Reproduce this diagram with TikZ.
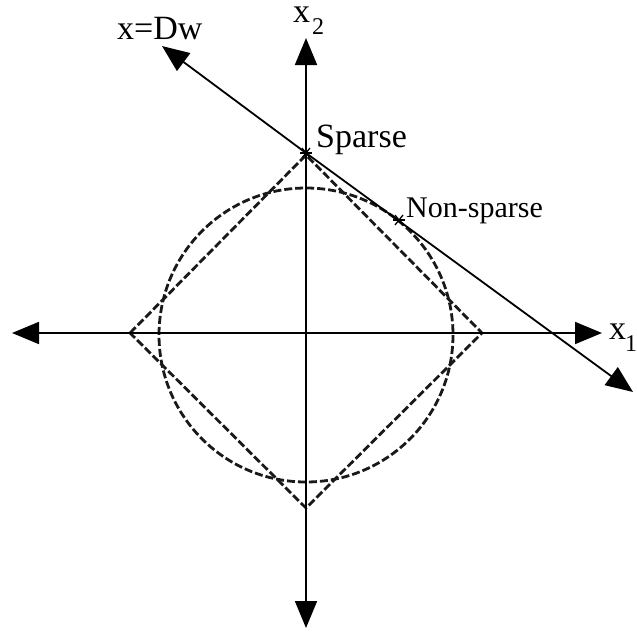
\documentclass[tikz,border=0pt]{standalone}
\usepackage{fontspec}
\setmainfont{Liberation Serif}
\usetikzlibrary{arrows.meta}
\begin{document}
\begin{tikzpicture}[x=1pt,y=-1pt,
  axis/.style={line width=1.8pt,-{Triangle[length=27pt,width=22pt]}},
  dashline/.style={line width=2.8pt,dash pattern=on 8pt off 3pt,draw=black!90},
  lbl/.style={font=\fontsize{34}{36}\selectfont,inner sep=0pt,anchor=base west},
  sublbl/.style={font=\fontsize{24}{26}\selectfont,inner sep=0pt,anchor=base west},
  starmark/.style={line width=1.3pt}]
\useasboundingbox (0,0) rectangle (637,632);
\coordinate (O) at (306,333);
\coordinate (L) at (12,333);
\coordinate (R) at (602,333);
\coordinate (T) at (306,38);
\coordinate (B) at (306,628);
\coordinate (S) at (306,153);
\coordinate (N) at (399,220);
\coordinate (DA) at (162,46);
\coordinate (DB) at (633,392);
% circle and diamond
\draw[dashline] (306,335) circle (147);
\draw[dashline] (130,333) -- (306,155) -- (482,333) -- (306,508) -- cycle;
% axes
\draw[axis] (O) -- (L);
\draw[axis] (O) -- (R);
\draw[axis] (O) -- (T);
\draw[axis] (O) -- (B);
% line x=Dw
\draw[axis] (S) -- (DA);
\draw[axis] (S) -- (DB);
% star marks
\foreach \p in {S,N}{
  \draw[starmark] (\p) ++(-6,0) -- ++(12,0);
  \draw[starmark] (\p) ++(-4,-5) -- ++(8,10);
  \draw[starmark] (\p) ++(4,-5) -- ++(-8,10);
}
% labels
\node[lbl] (lx1) at (609,339) {x};
\node[sublbl] (lx1s) at (625,351) {1};
\node[lbl] (lx2) at (293,22) {x};
\node[sublbl] (lx2s) at (312,34) {2};
\node[lbl] (ldw) at (117,39) {x=Dw};
\node[lbl] (lsp) at (316,147) {Sparse};
\node[lbl,font=\fontsize{30}{32}\selectfont] (lns) at (406,217) {Non-sparse};
\end{tikzpicture}
\end{document}
